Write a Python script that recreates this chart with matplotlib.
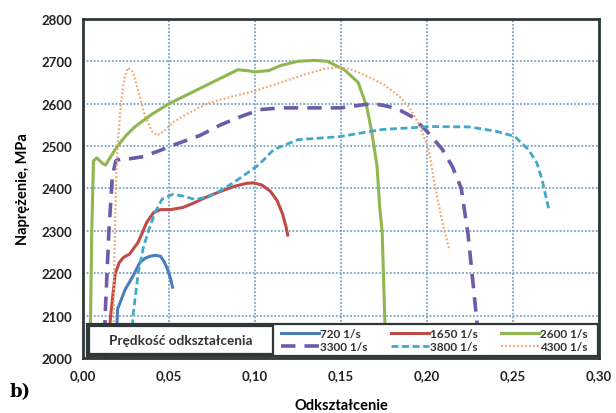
import matplotlib.pyplot as plt
from matplotlib.patches import Rectangle
from matplotlib.lines import Line2D
from matplotlib.ticker import FuncFormatter

# strain / stress curves
x720 = [0.019, 0.020, 0.0245, 0.029, 0.033, 0.036, 0.039, 0.042, 0.045, 0.047, 0.049, 0.051, 0.052]
y720 = [2000, 2115, 2162, 2193, 2225, 2235, 2240, 2242, 2240, 2228, 2210, 2185, 2167]

x1650 = [0.014, 0.016, 0.0187, 0.021, 0.0234, 0.027, 0.032, 0.037, 0.041, 0.045, 0.051, 0.058, 0.064,
         0.072, 0.080, 0.088, 0.095, 0.099, 0.104, 0.109, 0.113, 0.116, 0.118, 0.119]
y1650 = [2000, 2100, 2200, 2225, 2237, 2245, 2273, 2320, 2343, 2350, 2350, 2355, 2365,
         2380, 2393, 2405, 2412, 2413, 2408, 2393, 2370, 2340, 2310, 2290]

x2600 = [0.004, 0.005, 0.006, 0.008, 0.011, 0.013, 0.016, 0.020, 0.025, 0.030, 0.040, 0.050, 0.060,
         0.075, 0.090, 0.095, 0.100, 0.108, 0.115, 0.125, 0.135, 0.142, 0.152, 0.160, 0.165, 0.168,
         0.171, 0.1725, 0.174, 0.1755, 0.176]
y2600 = [2000, 2300, 2465, 2472, 2460, 2455, 2475, 2500, 2525, 2545, 2575, 2600, 2620,
         2650, 2680, 2678, 2675, 2678, 2690, 2700, 2702, 2700, 2680, 2650, 2593, 2531,
         2452, 2358, 2296, 2092, 2000]

x3300 = [0.012, 0.013, 0.015, 0.017, 0.019, 0.022, 0.027, 0.035, 0.045, 0.051, 0.068, 0.080, 0.092,
         0.103, 0.115, 0.130, 0.150, 0.164, 0.172, 0.178, 0.185, 0.191, 0.200, 0.209, 0.215, 0.220,
         0.224, 0.226, 0.229, 0.231]
y3300 = [2000, 2120, 2300, 2430, 2465, 2470, 2470, 2475, 2490, 2500, 2525, 2550, 2570,
         2586, 2590, 2590, 2590, 2598, 2598, 2593, 2583, 2570, 2535, 2492, 2450, 2400,
         2290, 2210, 2090, 2000]

x3800 = [0.028, 0.029, 0.032, 0.035, 0.038, 0.042, 0.046, 0.052, 0.058, 0.065, 0.073, 0.080, 0.088,
         0.095, 0.102, 0.111, 0.125, 0.149, 0.174, 0.203, 0.225, 0.240, 0.251, 0.259, 0.264, 0.267,
         0.269, 0.271]
y3800 = [2000, 2100, 2200, 2260, 2300, 2345, 2375, 2386, 2382, 2374, 2380, 2395, 2415,
         2435, 2455, 2492, 2515, 2522, 2539, 2546, 2545, 2535, 2523, 2492, 2460, 2421,
         2385, 2350]

x4300 = [0.0175, 0.018, 0.019, 0.020, 0.022, 0.024, 0.026, 0.029, 0.032, 0.036, 0.040, 0.043, 0.047,
         0.052, 0.060, 0.072, 0.085, 0.100, 0.115, 0.130, 0.140, 0.148, 0.155, 0.165, 0.175, 0.184,
         0.190, 0.195, 0.201, 0.205, 0.209, 0.213]
y4300 = [2000, 2200, 2400, 2500, 2600, 2660, 2685, 2675, 2630, 2570, 2535, 2525, 2535,
         2555, 2575, 2600, 2615, 2630, 2650, 2670, 2682, 2686, 2682, 2665, 2645, 2617,
         2590, 2555, 2492, 2400, 2320, 2256]

labels = ['720 1/s', '1650 1/s', '2600 1/s', '3300 1/s', '3800 1/s', '4300 1/s']
colors = ['#4a7ebb', '#be4b48', '#8fb74f', '#6c5ba8', '#3fa9c9', '#f4a86e']

plt.rcParams['font.family'] = ['Lato', 'DejaVu Sans']

fig = plt.figure(figsize=(6.16, 4.14), dpi=100)
ax = fig.add_axes([0.135, 0.133, 0.837, 0.819])

ax.plot(x720, y720, color=colors[0], lw=2.2)
ax.plot(x1650, y1650, color=colors[1], lw=2.2)
ax.plot(x2600, y2600, color=colors[2], lw=2.2)
ax.plot(x3300, y3300, color=colors[3], lw=2.6, dashes=(4, 2.5))
ax.plot(x3800, y3800, color=colors[4], lw=2.0, dashes=(2.5, 1.3))
ax.plot(x4300, y4300, color=colors[5], lw=1.6, dashes=(0.8, 1.0))

ax.set_xlim(0, 0.30)
ax.set_ylim(2000, 2800)
ax.set_xticks([0, 0.05, 0.10, 0.15, 0.20, 0.25, 0.30])
ax.set_yticks(range(2000, 2801, 100))
ax.xaxis.set_major_formatter(FuncFormatter(lambda v, p: f'{v:.2f}'.replace('.', ',')))
ax.tick_params(length=0, labelsize=9.5, pad=8, labelcolor='#222222')
for lab in ax.get_xticklabels() + ax.get_yticklabels():
    lab.set_fontweight('bold')
ax.grid(True, color='#7ba3c6', ls=(0, (1, 1)), lw=1.3)
ax.set_axisbelow(True)
for s in ax.spines.values():
    s.set_color('#2e3838')
    s.set_linewidth(2.0)

ax.set_xlabel('Odkształcenie', fontsize=10.5, fontweight='bold', labelpad=12)
ax.set_ylabel('Naprężenie, MPa', fontsize=10.5, fontweight='bold', labelpad=8)
fig.text(0.015, 0.04, 'b)', fontsize=13, fontweight='bold', family='DejaVu Serif')

# legend block along the bottom of the plot
ax.add_patch(Rectangle((0.008, 0.006), 0.99, 0.094, transform=ax.transAxes,
                       facecolor='white', edgecolor='#2e3838', lw=1.6, zorder=5))
ax.add_patch(Rectangle((0.011, 0.013), 0.357, 0.080, transform=ax.transAxes,
                       facecolor='white', edgecolor='#2e3838', lw=1.6, zorder=6))
ax.text(0.19, 0.053, 'Prędkość odkształcenia', transform=ax.transAxes, ha='center', va='center',
        fontsize=9.8, fontweight='bold', color='#333333', zorder=7)

styles = [dict(lw=2.2), dict(lw=2.2), dict(lw=2.2), dict(lw=2.6, dashes=(4, 2.5)),
          dict(lw=2.0, dashes=(2.5, 1.3)), dict(lw=1.6, dashes=(0.8, 1.0))]
handles = [Line2D([0], [0], color=c, **st) for c, st in zip(colors, styles)]
order = [0, 3, 1, 4, 2, 5]
leg = ax.legend([handles[i] for i in order], [labels[i] for i in order], ncol=3,
                loc='center right', bbox_to_anchor=(0.995, 0.053), frameon=False,
                fontsize=8.5, handlelength=3.2, handletextpad=0.1, columnspacing=2.0,
                labelspacing=0.15, borderpad=0.2)
leg.set_zorder(8)
for t in leg.get_texts():
    t.set_fontweight('bold')
    t.set_color('#333333')

fig.savefig('out.png', dpi=100)
